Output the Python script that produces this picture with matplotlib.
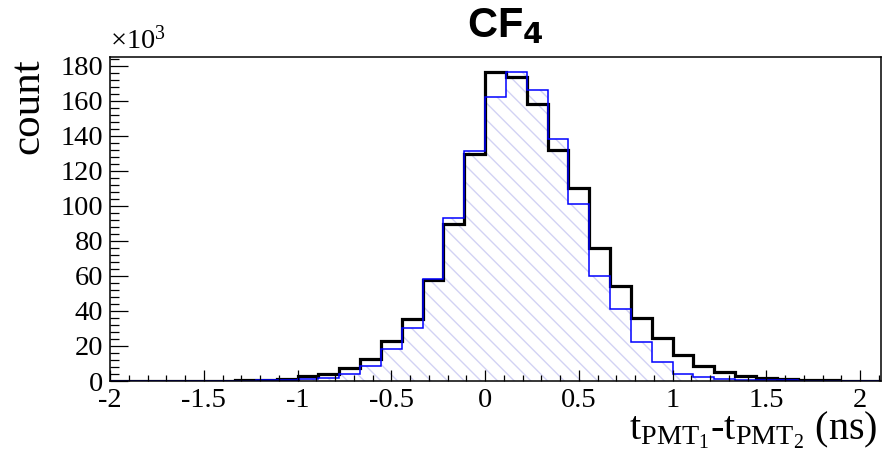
import numpy as np
import matplotlib
matplotlib.use('Agg')
import matplotlib.pyplot as plt
from matplotlib.ticker import MultipleLocator

plt.rcParams['font.family'] = ['Liberation Serif', 'DejaVu Serif']
plt.rcParams['mathtext.fontset'] = 'custom'
plt.rcParams['mathtext.rm'] = 'Liberation Serif'
plt.rcParams['mathtext.it'] = 'Liberation Serif'
plt.rcParams['hatch.linewidth'] = 1.0

# bin edges: width 1/9 ns, from -2 to 19/9
edges = np.arange(-18, 20) / 9.0

# counts (x10^3), black = thick histogram
black = [0.05, 0.05, 0.1, 0.1, 0.15, 0.2, 0.3, 0.6, 1.4, 2.6, 4.0, 7.2, 12.4, 22.6, 35.6, 57.7,
         89.7, 129.6, 176.2, 173.3, 158.4, 132.1, 110.4, 75.9, 54.3, 36.2, 24.7, 14.9, 8.4, 5.4,
         3.0, 1.5, 1.0, 0.6, 0.4, 0.2, 0.1]
# blue = thin hatched histogram
blue = [0.05, 0.05, 0.05, 0.1, 0.1, 0.15, 0.2, 0.3, 0.4, 1.1, 2.0, 4.0, 8.8, 18.4, 30.3, 58.5,
        93.2, 131.3, 162.2, 176.2, 166.2, 138.4, 101.2, 60.2, 41.0, 22.2, 10.7, 4.0, 2.5, 1.3,
        0.8, 0.5, 0.3, 0.2, 0.1, 0.05, 0.05]

fig = plt.figure(figsize=(8.85, 4.61), dpi=100)
ax = fig.add_axes([0.1243, 0.1735, 0.8712, 0.7029])

ax.stairs(blue, edges, fill=True, facecolor='none', edgecolor='#d2d2f4',
          hatch='\\\\', linewidth=0)
ax.stairs(black, edges, color='black', linewidth=2.3)
ax.stairs(blue, edges, color='#0000ff', linewidth=1.1)

ax.set_xlim(-2, 19 / 9.0)
ax.set_ylim(0, 185)

ax.xaxis.set_major_locator(MultipleLocator(0.5))
ax.xaxis.set_minor_locator(MultipleLocator(0.1))
ax.yaxis.set_major_locator(MultipleLocator(20))
ax.yaxis.set_minor_locator(MultipleLocator(4))
ax.tick_params(axis='both', which='both', direction='in', top=False, right=False,
               labelsize=20.5, width=0.9)
ax.tick_params(axis='y', which='major', length=13, pad=5)
ax.tick_params(axis='y', which='minor', length=6.5)
ax.tick_params(axis='x', which='major', length=8, pad=5)
ax.tick_params(axis='x', which='minor', length=4)
ax.set_xticks([-2, -1.5, -1, -0.5, 0, 0.5, 1, 1.5, 2])
ax.set_xticklabels(['-2', '-1.5', '-1', '-0.5', '0', '0.5', '1', '1.5', '2'])

for s in ax.spines.values():
    s.set_linewidth(1.1)

ax.text(0.0, 1.008, r'$\times$10$^{3}$', transform=ax.transAxes, fontsize=20.5,
        ha='left', va='bottom')
ax.set_ylabel('count', fontsize=31)
ax.yaxis.set_label_coords(-0.081, 0.849)

fig.text(0.992, 0.047, r'$\mathrm{t_{PMT_{1}}}$-$\mathrm{t_{PMT_{2}}}$ (ns)', fontsize=29,
         ha='right', va='baseline')

fig.text(0.571, 0.899, r'CF$_{\mathbf{4}}$', fontsize=30, fontweight='bold',
         family=['Liberation Sans', 'DejaVu Sans'], ha='center', va='bottom',
         math_fontfamily='dejavusans')

fig.savefig('out.png', dpi=100)
